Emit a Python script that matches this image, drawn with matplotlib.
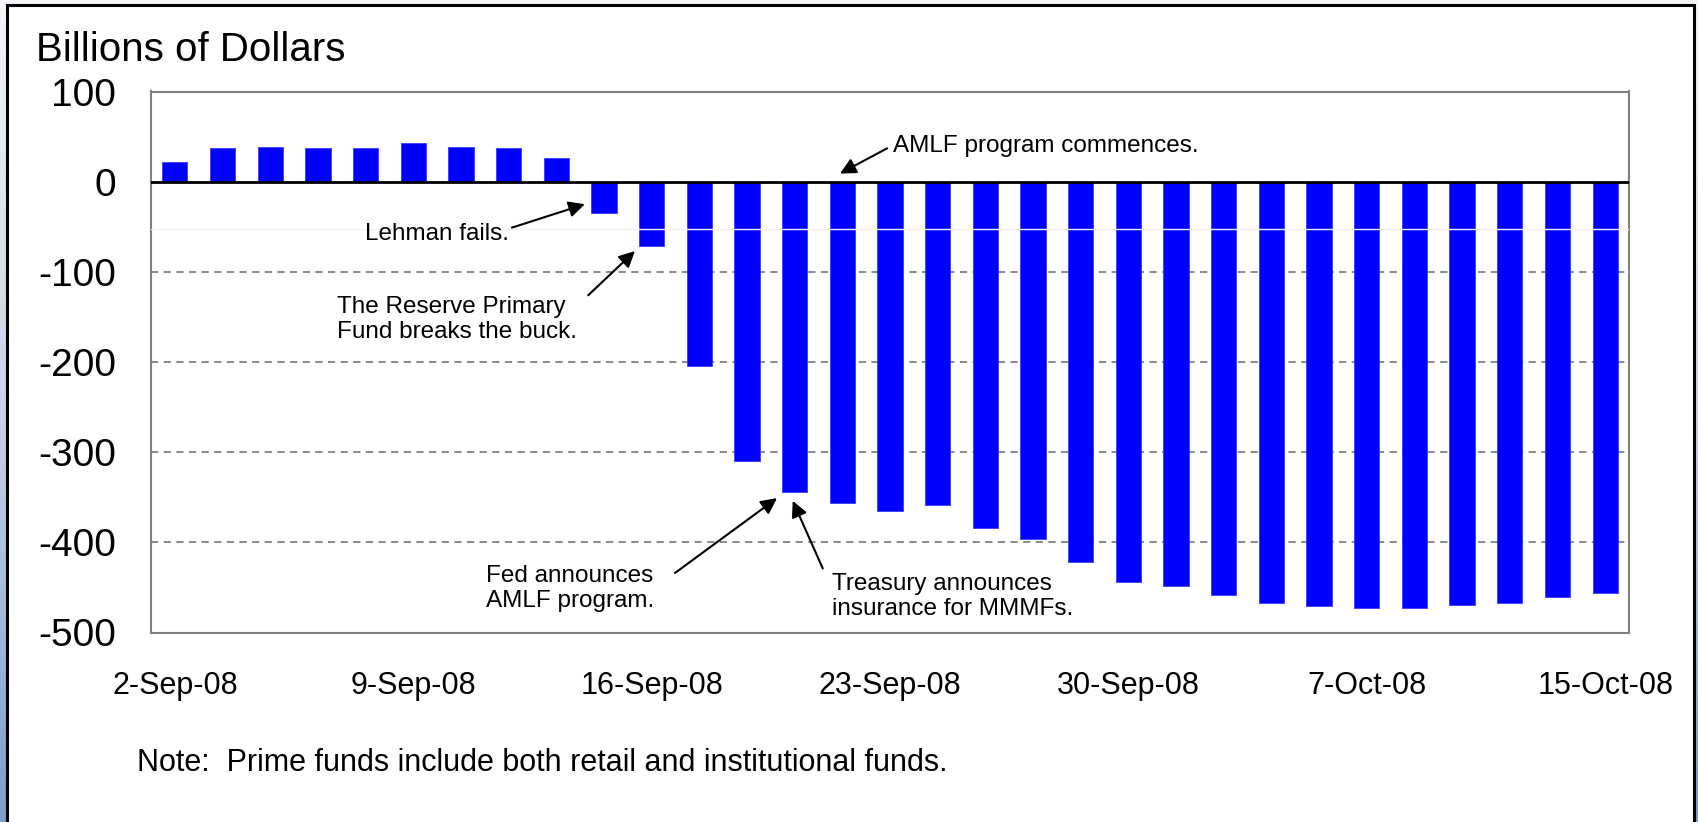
import numpy as np
import matplotlib
matplotlib.use("Agg")
import matplotlib.pyplot as plt
from matplotlib.patches import Rectangle
from matplotlib.colors import LinearSegmentedColormap

plt.rcParams['font.family'] = ['Liberation Sans', 'DejaVu Sans']

# business days, 2-Sep-08 .. 15-Oct-08 (13-Oct holiday skipped)
dates = ["2-Sep-08", "3-Sep-08", "4-Sep-08", "5-Sep-08", "8-Sep-08",
         "9-Sep-08", "10-Sep-08", "11-Sep-08", "12-Sep-08", "15-Sep-08",
         "16-Sep-08", "17-Sep-08", "18-Sep-08", "19-Sep-08", "22-Sep-08",
         "23-Sep-08", "24-Sep-08", "25-Sep-08", "26-Sep-08", "29-Sep-08",
         "30-Sep-08", "1-Oct-08", "2-Oct-08", "3-Oct-08", "6-Oct-08",
         "7-Oct-08", "8-Oct-08", "9-Oct-08", "10-Oct-08", "14-Oct-08",
         "15-Oct-08"]
flows = [22, 37, 39, 37, 37, 43, 39, 37, 26, -35,
         -71, -204, -310, -344, -356, -365, -359, -384, -396, -422,
         -444, -448, -458, -467, -471, -473, -473, -469, -467, -461,
         -456]
tick_labels = ["2-Sep-08", "9-Sep-08", "16-Sep-08", "23-Sep-08",
               "30-Sep-08", "7-Oct-08", "15-Oct-08"]

W, H = 1698, 822
fig = plt.figure(figsize=(W / 100, H / 100), dpi=100)

# slide background: blue gradient behind a white panel
bg = fig.add_axes([0, 0, 1, 1], zorder=-10)
cmap = LinearSegmentedColormap.from_list("slide", ["#f3f5f9", "#c9d3e4", "#7f9cc9"])
bg.imshow(np.linspace(0, 1, 256).reshape(-1, 1), aspect="auto", cmap=cmap,
          extent=[0, 1, 0, 1])
bg.set_xlim(0, 1)
bg.set_ylim(0, 1)
bg.axis("off")
bg.add_patch(Rectangle((7 / W, -0.01), (1694 - 7) / W, 1 - 5 / H + 0.01,
                       facecolor="white", edgecolor="black", lw=2.2))

ax = fig.add_axes([151 / W, 1 - 632.5 / H, (1629 - 151) / W, (632.5 - 91.5) / H])

x = np.arange(len(flows))
ax.bar(x, flows, width=0.53, color="#0000ff", edgecolor="#3a3aff", linewidth=0.6, zorder=3)

ax.set_xlim(-0.5, len(flows) - 0.5)
ax.set_ylim(-500, 100)
ax.set_yticks([100, 0, -100, -200, -300, -400, -500])
ax.set_yticklabels(["100", "0", "-100", "-200", "-300", "-400", "-500"])
ax.set_xticks([dates.index(d) for d in tick_labels])
ax.set_xticklabels(tick_labels)
ax.tick_params(axis="y", length=0, pad=25, labelsize=28)
ax.tick_params(axis="x", length=0, pad=28, labelsize=22)

for y in [-100, -200, -300, -400]:
    ax.axhline(y, color="#808080", lw=1.3, ls=(0, (4, 3)), zorder=1)
ax.axhline(0, color="black", lw=2, zorder=4)
# faint streak seen across the original slide
ax.axhline(-53, color="#f2f2f2", lw=1, zorder=3.5)
for s in ax.spines.values():
    s.set_color("#808080")
    s.set_linewidth(1.5)

# annotations
arrow = dict(arrowstyle="-|>", color="black", lw=1.5, mutation_scale=24,
             shrinkA=0, shrinkB=0)
fs = 17.5
ax.text(7.0, -58, "Lehman fails.", ha="right", va="center", fontsize=fs, zorder=6)
ax.annotate("", xy=(8.60, -25), xytext=(7.07, -51), arrowprops=arrow)

ax.text(3.40, -153, "The Reserve Primary\nFund breaks the buck.", ha="left",
        va="center", fontsize=fs, zorder=6)
ax.annotate("", xy=(9.65, -77), xytext=(8.67, -126), arrowprops=arrow)

ax.text(15.06, 40, "AMLF program commences.", ha="left", va="center", fontsize=fs, zorder=6)
ax.annotate("", xy=(13.95, 9), xytext=(14.94, 37), arrowprops=arrow)

ax.text(6.53, -451, "Fed announces\nAMLF program.", ha="left", va="center",
        fontsize=fs, zorder=6)
ax.annotate("", xy=(12.63, -351), xytext=(10.49, -434), arrowprops=arrow)

ax.text(13.78, -460, "Treasury announces\ninsurance for MMMFs.", ha="left",
        va="center", fontsize=fs, zorder=6)
ax.annotate("", xy=(12.96, -354), xytext=(13.59, -429), arrowprops=arrow)

fig.text(36 / W, 1 - 61 / H, "Billions of Dollars", fontsize=29, ha="left", va="baseline")
fig.text(137 / W, 1 - 763 / H,
         "Note:  Prime funds include both retail and institutional funds.",
         fontsize=22, ha="left", va="center")

fig.savefig("out.png", dpi=100)
